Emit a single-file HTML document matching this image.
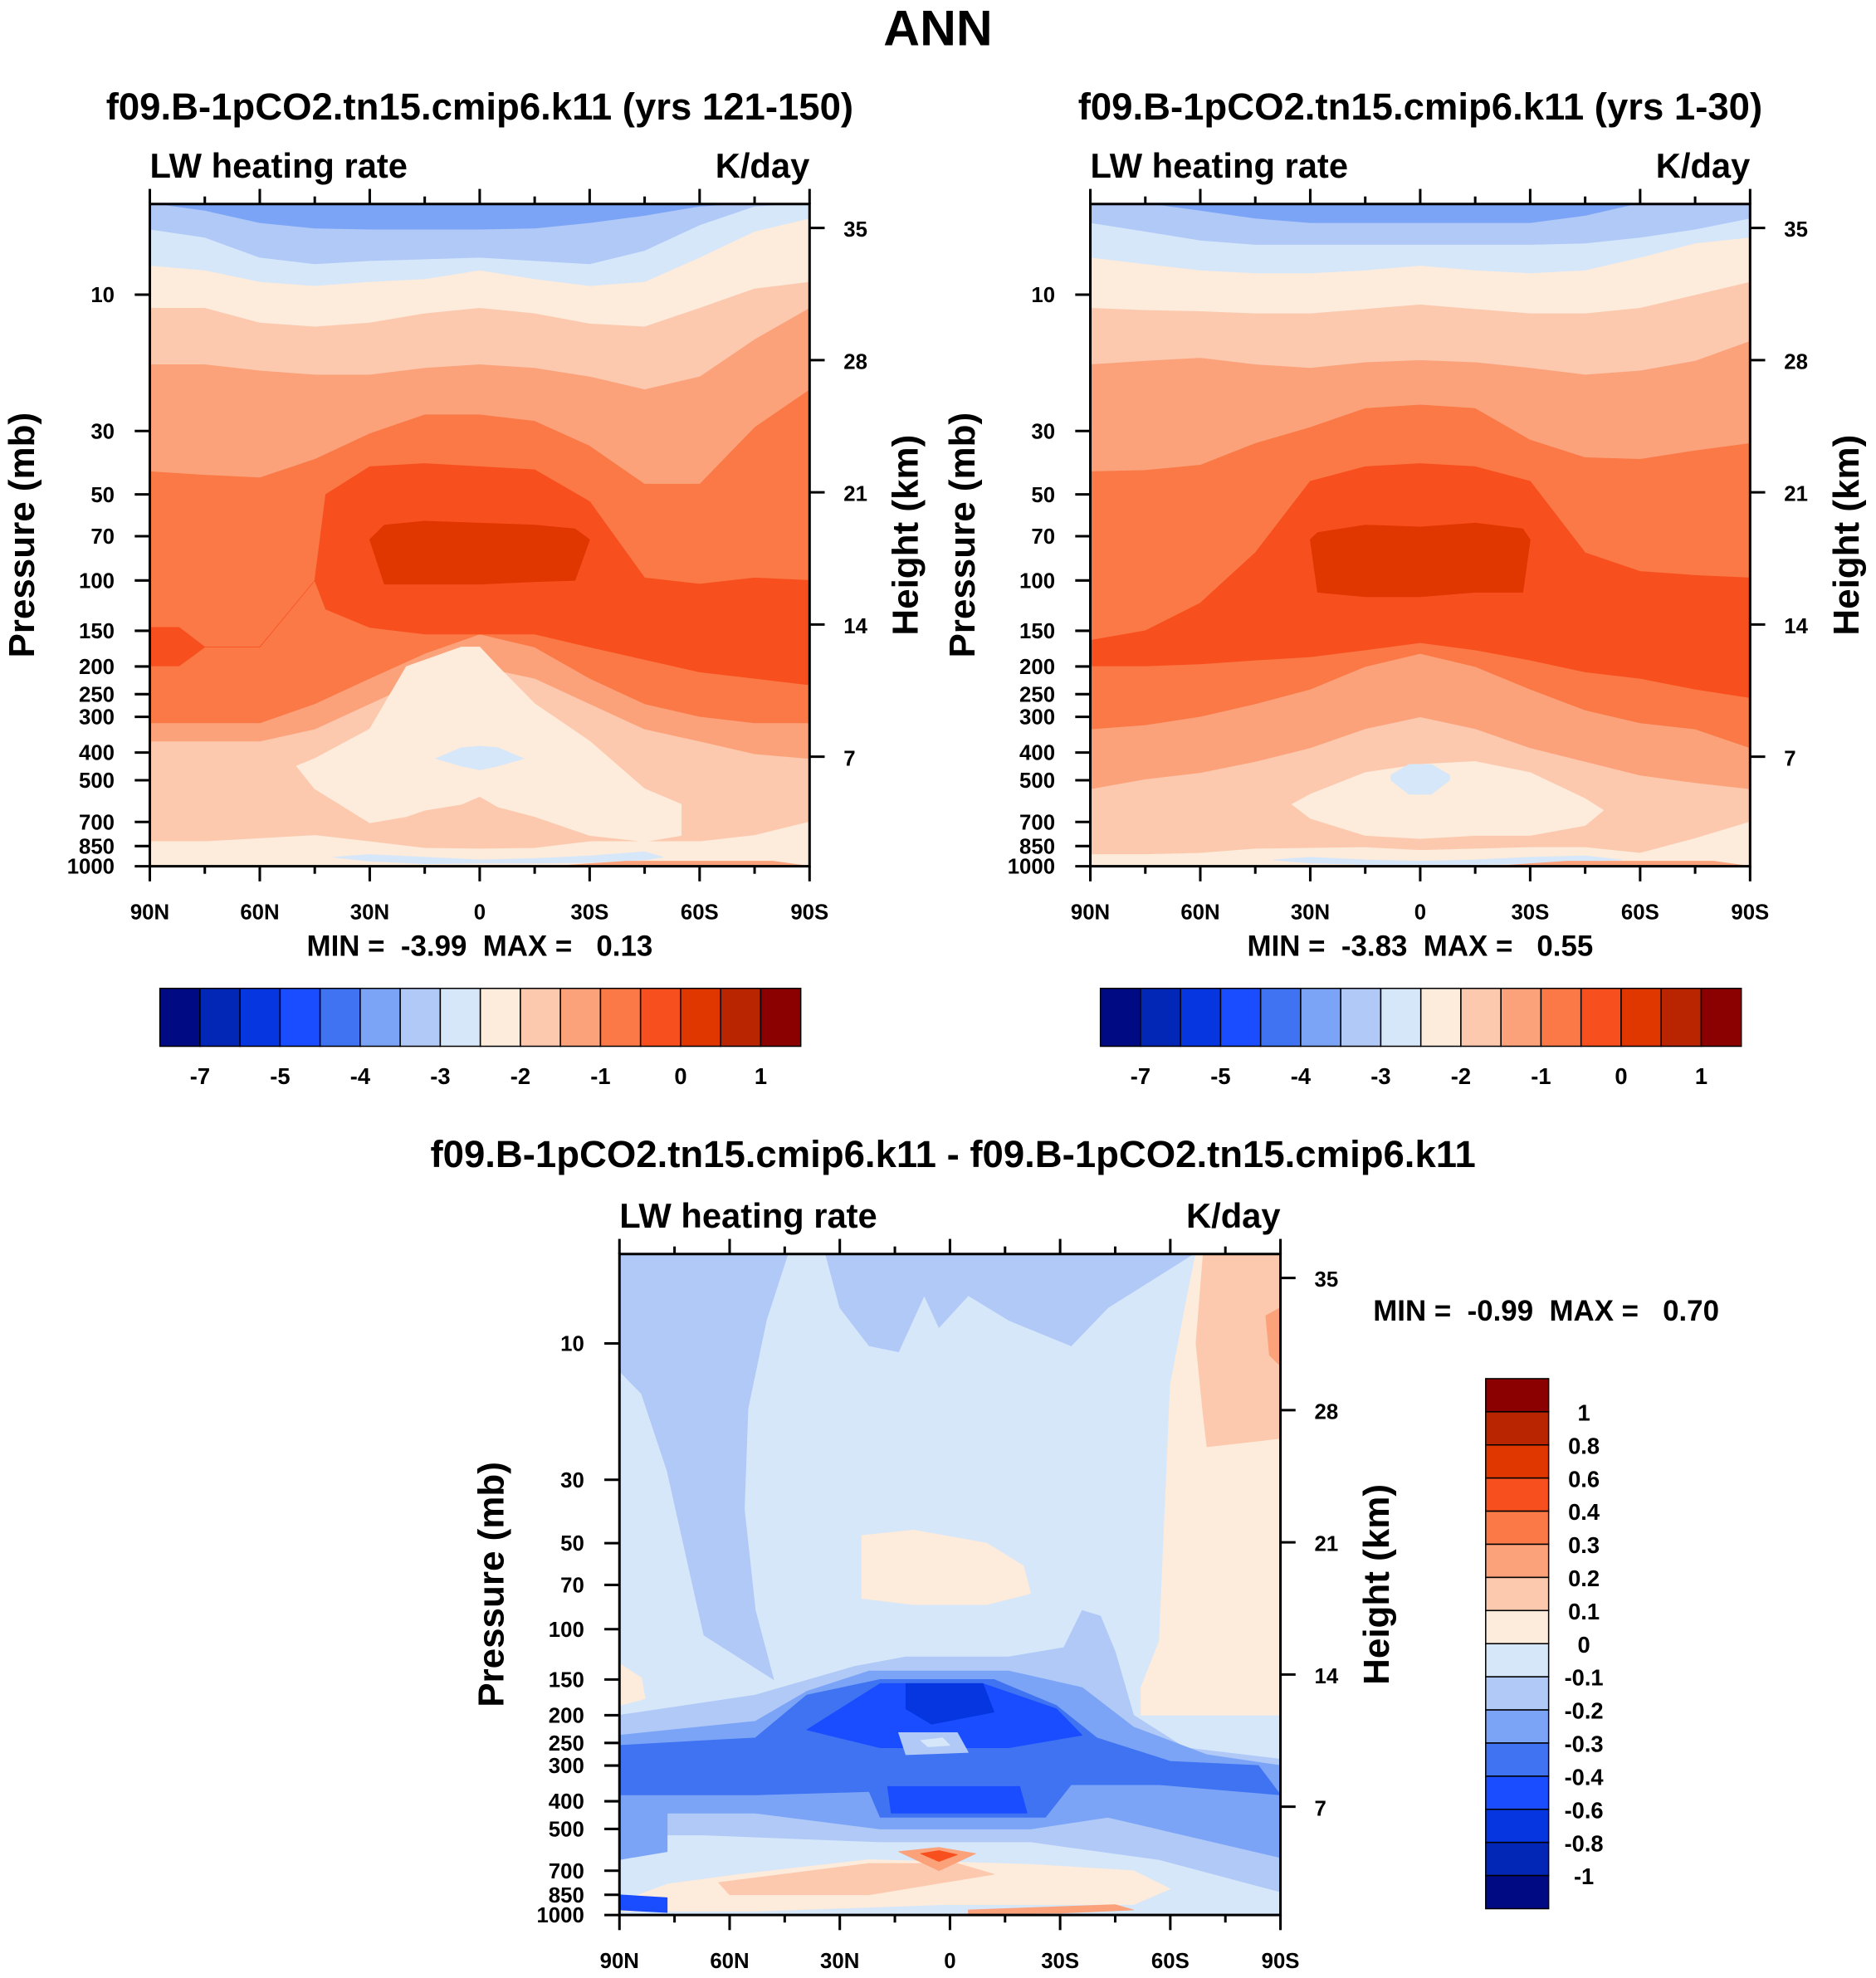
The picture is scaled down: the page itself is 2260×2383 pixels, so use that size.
<!DOCTYPE html>
<html><head><meta charset="utf-8">
<style>
html,body{margin:0;padding:0;background:#fff;}
svg{display:block;font-family:"Liberation Sans",Arial,sans-serif;font-weight:bold;}
svg text{white-space:pre;}
</style></head>
<body>
<svg id="fig" xmlns="http://www.w3.org/2000/svg" width="2260" height="2383" viewBox="0 0 1490 1571">
<rect x="0" y="0" width="1490" height="1571" fill="#fff"/>
<text x="745" y="36" text-anchor="middle" font-size="40">ANN</text>
</svg>
<script>
// ---------- data ----------
const colors16 = ['#000a82','#0226b5','#0536e0','#1a4dff','#3f73f2','#7ba4f7','#b0c9f7','#d6e7fa','#fdebdb','#fcc9ae','#fba27b','#fa7946','#f84f1e','#e03600','#b82500','#8b0000'];
const hcbLabels = ['-7','-5','-4','-3','-2','-1','0','1'];
const vcbLabels = ['1','0.8','0.6','0.4','0.3','0.2','0.1','0','-0.1','-0.2','-0.3','-0.4','-0.6','-0.8','-1'];
const pTicks = [10,30,50,70,100,150,200,250,300,400,500,700,850,1000];
const hTicks = [35,28,21,14,7];
const latTicks = [90,60,30,0,-30,-60,-90];
const latLabels = ['90N','60N','30N','0','30S','60S','90S'];
const lat13 = [90,75,60,45,30,15,0,-15,-30,-45,-60,-75,-90];

// Panel 1 (yrs 121-150)
const p1_7b = [4.77,5.07,5.6,5.85,5.9,5.9,5.9,5.85,5.6,5.28,4.9,4.77,4.77];
const p1_b0 = [5.9,6.3,7.4,7.8,7.6,7.5,7.4,7.6,7.8,7.0,5.7,4.9,4.77];
const p1_d6 = [7.9,8.2,9.0,9.3,9.0,8.8,8.2,8.8,9.3,9.0,7.4,6.0,5.4];
const p1_fd = [11.1,11.1,12.5,12.9,12.5,11.6,11.1,11.6,12.6,12.9,11.1,9.5,9.0];
const p1_fc = [17.5,17.5,18.4,19.0,19.0,18.0,17.5,18.0,19.3,21.4,19.3,14.3,11.1];
const p1_fb = [41.4,42.6,43.5,37.5,30.5,26.2,26.2,27.6,33.7,45.8,45.8,29.0,21.4];
const p1_fa = [315,315,315,270,220,180,154,171,220,270,299,315,315];
const p1_fbLow = [365,365,365,331,270,220,200,220,270,331,365,404,420];
const p1_redLat = [90,82,75,60,45,42,30,15,0,-15,-30,-45,-60,-75,-90];
const p1_redTop = [146,146,171,171,100,50,40,39,40,41,53,98,103,98,100];
const p1_redBot = [199,199,171,171,100,126,146,154,154,154,171,189,209,220,232];
const p1_coreLat = [30,26,15,0,-15,-26,-30];
const p1_coreTop = [72,64,62,63,64,66,72];
const p1_coreBot = [72,103,103,103,101,100,72];
const p1_plumeLat = [50,45,30,20,15,5,0,-5,-15,-30,-45,-55];
const p1_plumeTop = [446,420,331,200,190,171,171,200,270,365,536,607];
const p1_plumeBot = [446,536,705,670,637,607,570,620,670,780,820,780];
const p1_blobLat = [12,5,0,-5,-12];
const p1_blobTop = [420,385,380,385,420];
const p1_blobBot = [420,446,460,446,420];
const p1_sfcTop = [820,820,800,780,820,865,870,865,820,820,820,780,700];
const p1_sfcBlueLat = [40,30,15,0,-15,-30,-45,-50];
const p1_sfcBlueTop = [930,910,930,950,940,920,890,930];
const p1_sfcBlueBot = [930,960,980,975,975,970,950,930];

// Panel 2 (yrs 1-30)
const p2_7b = [4.77,4.77,5.07,5.4,5.6,5.6,5.6,5.6,5.6,5.28,4.77,4.77,4.77];
const p2_b0 = [5.6,6.0,6.45,6.67,6.67,6.67,6.67,6.67,6.67,6.6,6.3,5.9,5.4];
const p2_d6 = [7.4,7.8,8.2,8.4,8.4,8.2,7.9,8.2,8.4,8.2,7.4,6.6,6.3];
const p2_fd = [11.1,11.3,11.4,11.6,11.6,11.2,10.8,11.2,11.6,11.6,11.1,10,9];
const p2_fc = [17.5,17,16.6,17.5,18.0,17.2,16.9,17.2,18.0,19,18.4,17,14.5];
const p2_fb = [41.4,41,39.3,33,29.0,24.9,24.2,24.9,32.1,37,37.5,35,33];
const p2_fa = [331,320,299,270,240,200,180,200,240,284,315,331,385];
const p2_fbLow = [536,495,470,430,385,330,300,330,385,430,480,510,536];
const p2_redTop = [162,150,120,80,45,40,39,40,45,80,93,96,98];
const p2_redBot = [199,199,196,190,185,175,165,175,190,209,220,240,257];
const p2_coreLat = [30,28,15,0,-15,-28,-30];
const p2_coreTop = [72,68,64,65,63,66,72];
const p2_coreBot = [72,110,114,114,110,110,72];
const p2_plumeLat = [35,30,15,0,-15,-30,-45,-50];
const p2_plumeTop = [607,560,470,440,430,470,580,637];
const p2_plumeBot = [607,680,780,800,780,780,720,637];
const p2_blobLat = [8,3,-3,-8];
const p2_blobTop = [480,440,440,480];
const p2_blobBot = [500,560,560,500];
const p2_sfcTop = [910,910,900,870,865,860,880,870,860,860,900,800,700];
const p2_sfcBlueLat = [40,30,15,0,-15,-30,-45,-55];
const p2_sfcBlueTop = [950,930,950,960,950,930,920,950];
const p2_sfcBlueBot = [950,975,985,985,985,980,960,950];

// Panel 3 (difference)
const d_leftB0 = [[90,4.8],[44,4.8],[50,8.3],[55,16.9],[56,38],[53,86],[48,150],[67,105],[77,28],[84,15],[90,12.5]];
const d_midB0 = [[34,4.8],[-67,4.8],[-43,7.5],[-33,10.2],[-16,8.3],[-5,6.8],[3,8.8],[7,6.8],[14,10.7],[22,10.2],[30,7.5]];
const d_rightFd = [[-67,4.8],[-90,4.8],[-90,200],[-52,200],[-52,160],[-57,110],[-60,14],[-64,7.5]];
const d_rightFc = [[-69,4.8],[-90,4.8],[-90,21.5],[-70,23],[-69,18],[-67,10]];
const d_rightFb = [[-86,8],[-90,7.5],[-90,12],[-87,11]];
const d_leftFd = [[90,132],[84,148],[83,175],[90,185]];
const d_midFd = [[24,47],[10,45],[-10,50],[-20,60],[-22,75],[-10,82],[10,82],[24,78]];
const d_tropB0 = [[90,200],[53,170],[26,135],[12,125],[-16,125],[-31,116],[-36,86],[-41,90],[-45,120],[-50,200],[-64,260],[-90,285],[-90,830],[-57,640],[-22,555],[19,555],[67,525],[90,525]];
const d_trop7b = [[90,235],[53,210],[39,165],[22,140],[-16,140],[-36,160],[-50,220],[-70,275],[-90,300],[-90,630],[-43,455],[-22,500],[19,500],[53,440],[77,440],[77,600],[90,640]];
const d_trop3f = [[90,255],[53,240],[39,170],[19,150],[-12,150],[-29,185],[-40,240],[-60,290],[-84,300],[-90,380],[-57,350],[-33,350],[-26,455],[19,455],[22,370],[53,380],[90,380]];
const d_trop1a = [[39,225],[19,155],[-9,155],[-29,190],[-36,235],[-16,260],[19,260]];
const d_trop05 = [[12,155],[-9,155],[-12,195],[5,215],[12,190]];
const d_paleB0 = [[14,230],[-2,230],[-5,270],[12,275]];
const d_paleD6 = [[8,245],[2,240],[0,255],[6,258]];
const d_low1a = [[17,355],[-19,355],[-21,440],[16,440]];
const d_lowFd = [[90,900],[77,780],[57,720],[22,640],[-22,665],[-50,700],[-60,810],[-50,920],[2,920],[53,970],[90,970]];
const d_lowFc = [[63,770],[22,660],[-2,660],[-12,720],[22,850],[60,850]];
const d_lowFb = [[14,600],[3,580],[-7,610],[3,700]];
const d_lowF8 = [[8,610],[3,595],[-2,615],[3,650]];
const d_sfc1a = [[90,850],[77,870],[77,980],[90,960]];
const d_sfcFb = [[-5,960],[-30,935],[-45,920],[-50,960],[-30,985],[-5,990]];

// ---------- rendering ----------
const NS = 'http://www.w3.org/2000/svg';
const svg = document.getElementById('fig');
function mk(tag, attrs, parent){ const e=document.createElementNS(NS,tag); for(const k in attrs) e.setAttribute(k,attrs[k]); (parent||svg).appendChild(e); return e; }

function makePanel(x0,y0,w,h,id){
  const xS = lat => x0 + (90-lat)/180*w;
  const yS = p => y0 + h - (3-Math.log10(p))*227;
  const g = mk('g',{});
  
  
  const cp = mk('clipPath',{id:id+'-clip'},g);
  mk('rect',{x:x0,y:y0,width:w,height:h},cp);
  const fills = mk('g',{'clip-path':'url(#'+id+'-clip)'},g);
  return {xS,yS,g,fills,x0,y0,w,h,id};
}
function band(P,color,lats,top,bot,name){
  const pts=[];
  lats.forEach((l,i)=>pts.push(P.xS(l)+','+P.yS(Array.isArray(top)?top[i]:top)));
  for(let i=lats.length-1;i>=0;i--) pts.push(P.xS(lats[i])+','+P.yS(Array.isArray(bot)?bot[i]:bot));
  const e=mk('polygon',{points:pts.join(' '),fill:color,stroke:color,'stroke-width':0.5,'stroke-linejoin':'round'},P.fills);
  
  
}
function region(P,color,pts,name){
  const s=pts.map(q=>P.xS(q[0])+','+P.yS(q[1])).join(' ');
  const e=mk('polygon',{points:s,fill:color,stroke:color,'stroke-width':0.5,'stroke-linejoin':'round'},P.fills);
  
  
}
function text(x,y,s,size,anchor,name,rot){
  const e=mk('text',{x:x,y:y,'font-size':size,'text-anchor':anchor||'middle'});
  if(rot) e.setAttribute('transform','rotate('+rot+' '+x+' '+y+')');
  e.textContent=s;
  
  
  return e;
}
function axes(P){
  const {x0,y0,w,h,id}=P;
  const box=mk('rect',{x:x0,y:y0,width:w,height:h,fill:'none',stroke:'#000','stroke-width':2});
  
  
  pTicks.forEach(p=>{
    const y=P.yS(p);
    const t=mk('line',{x1:x0-12,x2:x0,y1:y,y2:y,stroke:'#000','stroke-width':2});
    
    
    text(x0-28,y+6,String(p),17,'end','pressure-tick-label');
  });
  hTicks.forEach(z=>{
    const y=y0+544-15*z;
    const t=mk('line',{x1:x0+w,x2:x0+w+12,y1:y,y2:y,stroke:'#000','stroke-width':2});
    
    
    text(x0+w+27,y+7,String(z),17,'start','height-tick-label');
  });
  for(let lat=90;lat>=-90;lat-=15){
    const x=P.xS(lat); const major=(lat%30===0);
    const L=major?12:6;
    const a=mk('line',{x1:x,x2:x,y1:y0-L,y2:y0,stroke:'#000','stroke-width':2});
    
    
    const b=mk('line',{x1:x,x2:x,y1:y0+h,y2:y0+h+L,stroke:'#000','stroke-width':2});
    
    
  }
  latTicks.forEach((l,i)=>text(P.xS(l),y0+h+42,latLabels[i],17,'middle','lat-tick-label'));
  text(x0-92,y0+h/2,'Pressure (mb)',29,'middle','y-axis-title',-90);
  text(x0+w+86,y0+h/2,'Height (km)',29,'middle','y2-axis-title',-90);
  text(x0,y0-21,'LW heating rate',27.5,'start','variable-label');
  text(x0+w,y0-21,'K/day',27.5,'end','units-label');
}
function hColorbar(x0,y0,w,h,id){
  const bw=w/16;
  colors16.forEach((c,i)=>{
    const r=mk('rect',{x:x0+i*bw,y:y0,width:bw,height:h,fill:c,stroke:'#000','stroke-width':1});
    
    
  });
  hcbLabels.forEach((s,i)=>text(x0+(2*i+1)*bw,y0+h+30,s,18,'middle',id+'-label'));
}
function vColorbar(x0,y0,w,h,id){
  const bh=h/16;
  colors16.slice().reverse().forEach((c,i)=>{
    const r=mk('rect',{x:x0,y:y0+i*bh,width:w,height:bh,fill:c,stroke:'#000','stroke-width':1});
    
    
  });
  vcbLabels.forEach((s,i)=>text(x0+w+28,y0+(i+1)*bh+7,s,18,'middle',id+'-label'));
}
const C = colors16;

function drawAbs(P,d){
  const bg=mk('rect',{x:P.x0,y:P.y0,width:P.w,height:P.h,fill:C[9]},P.fills);
  
  
  band(P,C[10],lat13,d.fa,d.fbLow,'band-lower-0.2');
  band(P,C[11],lat13,1,d.fa,'band-0.3');
  band(P,C[10],lat13,1,d.fb,'band-0.2');
  band(P,C[9],lat13,1,d.fc,'band-0.1');
  band(P,C[8],lat13,1,d.fd,'band-0');
  band(P,C[7],lat13,1,d.d6,'band-neg0.1');
  band(P,C[6],lat13,1,d.b0,'band-neg0.2');
  band(P,C[5],lat13,1,d.s7b,'band-neg0.3');
  band(P,C[12],d.redLat,d.redTop,d.redBot,'band-0.4');
  band(P,C[13],d.coreLat,d.coreTop,d.coreBot,'core-max');
  band(P,C[8],d.plumeLat,d.plumeTop,d.plumeBot,'plume');
  band(P,C[7],d.blobLat,d.blobTop,d.blobBot,'blue-blob');
  band(P,C[8],lat13,d.sfcTop,1100,'surface-band');
  band(P,C[7],d.sfcBlueLat,d.sfcBlueTop,d.sfcBlueBot,'surface-blue');
  band(P,C[10],[-20,-40,-60,-80,-90],[1000,960,960,960,1000],[1100,1100,1100,1100,1100],'surface-orange');
}

// Panel 1
text(381,95,'f09.B-1pCO2.tn15.cmip6.k11 (yrs 121-150)',30,'middle','panel1-title');
const P1=makePanel(119,162,524,526,'panel1');
drawAbs(P1,{s7b:p1_7b,b0:p1_b0,d6:p1_d6,fd:p1_fd,fc:p1_fc,fb:p1_fb,fa:p1_fa,fbLow:p1_fbLow,
  redLat:p1_redLat,redTop:p1_redTop,redBot:p1_redBot,coreLat:p1_coreLat,coreTop:p1_coreTop,coreBot:p1_coreBot,
  plumeLat:p1_plumeLat,plumeTop:p1_plumeTop,plumeBot:p1_plumeBot,blobLat:p1_blobLat,blobTop:p1_blobTop,blobBot:p1_blobBot,
  sfcTop:p1_sfcTop,sfcBlueLat:p1_sfcBlueLat,sfcBlueTop:p1_sfcBlueTop,sfcBlueBot:p1_sfcBlueBot});
axes(P1);
text(381,759,'MIN =  -3.99  MAX =   0.13',23,'middle','panel1-min-max');
hColorbar(127,785,509,46,'panel1-colorbar');

// Panel 2
text(1128,95,'f09.B-1pCO2.tn15.cmip6.k11 (yrs 1-30)',30,'middle','panel2-title');
const P2=makePanel(866,162,524,526,'panel2');
drawAbs(P2,{s7b:p2_7b,b0:p2_b0,d6:p2_d6,fd:p2_fd,fc:p2_fc,fb:p2_fb,fa:p2_fa,fbLow:p2_fbLow,
  redLat:lat13,redTop:p2_redTop,redBot:p2_redBot,coreLat:p2_coreLat,coreTop:p2_coreTop,coreBot:p2_coreBot,
  plumeLat:p2_plumeLat,plumeTop:p2_plumeTop,plumeBot:p2_plumeBot,blobLat:p2_blobLat,blobTop:p2_blobTop,blobBot:p2_blobBot,
  sfcTop:p2_sfcTop,sfcBlueLat:p2_sfcBlueLat,sfcBlueTop:p2_sfcBlueTop,sfcBlueBot:p2_sfcBlueBot});
axes(P2);
text(1128,759,'MIN =  -3.83  MAX =   0.55',23,'middle','panel2-min-max');
hColorbar(874,785,509,46,'panel2-colorbar');

// Panel 3
text(757,927,'f09.B-1pCO2.tn15.cmip6.k11 - f09.B-1pCO2.tn15.cmip6.k11',30,'middle','diff-title');
const P3=makePanel(492,996,525,525,'panel3');
const bg3=mk('rect',{x:P3.x0,y:P3.y0,width:P3.w,height:P3.h,fill:C[7]},P3.fills);


region(P3,C[6],d_leftB0,'left-negative-region');
region(P3,C[6],d_midB0,'top-negative-region');
region(P3,C[8],d_rightFd,'right-positive-region');
region(P3,C[9],d_rightFc,'right-positive-0.1');
region(P3,C[10],d_rightFb,'right-positive-0.2');
region(P3,C[8],d_leftFd,'left-positive-patch');
region(P3,C[8],d_midFd,'mid-positive-blob');
region(P3,C[6],d_tropB0,'trop-neg0.1');
region(P3,C[5],d_trop7b,'trop-neg0.2');
region(P3,C[4],d_trop3f,'trop-neg0.3');
region(P3,C[3],d_trop1a,'trop-neg0.4');
region(P3,C[2],d_trop05,'trop-neg0.6');
region(P3,C[6],d_paleB0,'trop-pale');
region(P3,C[7],d_paleD6,'trop-pale-center');
region(P3,C[3],d_low1a,'lower-neg0.4');
region(P3,C[8],d_lowFd,'lower-positive');
region(P3,C[9],d_lowFc,'lower-positive-0.1');
region(P3,C[10],d_lowFb,'lower-positive-0.2');
region(P3,C[12],d_lowF8,'lower-positive-max');
region(P3,C[3],d_sfc1a,'surface-negative');
region(P3,C[10],d_sfcFb,'surface-positive');
axes(P3);
text(1228,1049,'MIN =  -0.99  MAX =   0.70',23,'middle','diff-min-max');
vColorbar(1180,1095,50,421,'diff-colorbar');
</script>
</body></html>
